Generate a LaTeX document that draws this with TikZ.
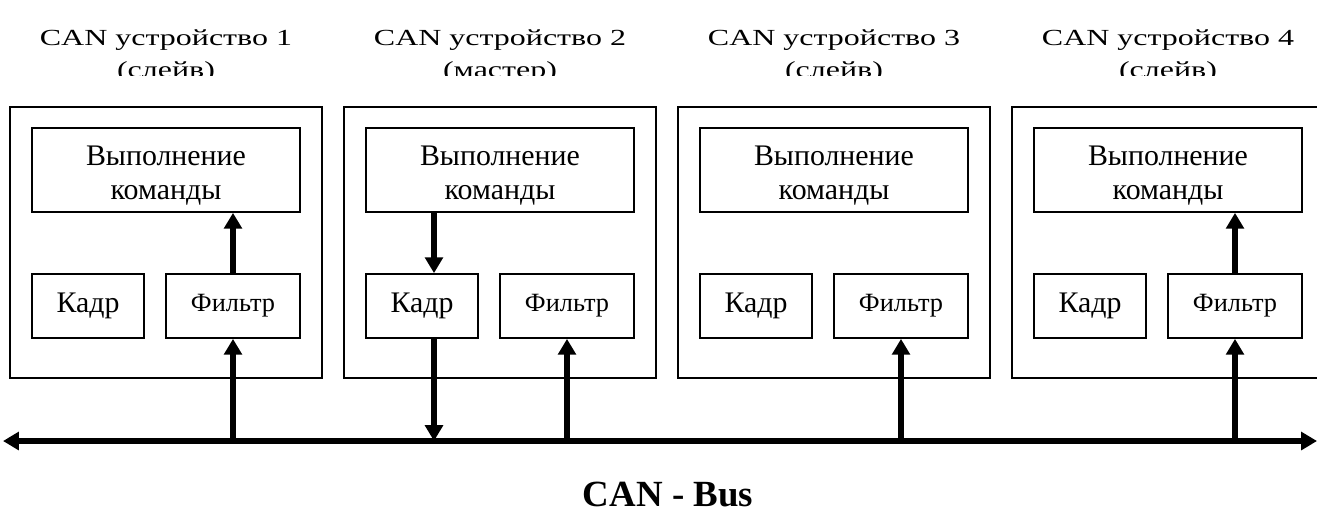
\documentclass[tikz,border=0pt]{standalone}
\usepackage{fontspec}
\setmainfont{Liberation Serif}
\usetikzlibrary{arrows.meta}

\tikzset{
  devbox/.style={draw,line width=1pt,minimum width=6.24cm,minimum height=5.42cm,inner sep=0},
  execbox/.style={draw,line width=1pt,minimum width=5.36cm,minimum height=1.68cm,inner sep=0},
  exectext/.style={anchor=base,inner sep=0,align=center,font=\fontsize{17}{19}\selectfont},
  kadrbox/.style={draw,line width=1pt,minimum width=2.24cm,minimum height=1.28cm,inner sep=0,
    font=\fontsize{17}{17}\selectfont},
  filtbox/.style={draw,line width=1pt,minimum width=2.68cm,minimum height=1.28cm,inner sep=0,
    font=\fontsize{15}{15}\selectfont},
  devtitle/.style={anchor=base,inner sep=0,font=\fontsize{18.2}{18}\selectfont},
  sig/.style={line width=3pt,-{Triangle[width=10pt,length=9pt]}},
  bus/.style={line width=2.9pt,{Triangle[width=10pt,length=9pt]}-{Triangle[width=10pt,length=9pt]}}
}

\begin{document}
\begin{tikzpicture}[x=0.02cm,y=-0.02cm]
    \useasboundingbox (0,0) rectangle (1317,512);
    % four devices, 334px apart
    \foreach \i/\role in {1/слейв,2/мастер,3/слейв,4/слейв} {
        \pgfmathsetmacro{\xo}{10+334*(\i-1)}
        \node[devbox] (dev\i) at (\xo+156,242.5) {};
        \node[execbox] (exec\i) at (\xo+156,170) {};
        \node[exectext] (cmdtext\i) at (\xo+156,199) {Выполнение\\команды};
        \node[kadrbox] (kadr\i) at (\xo+78,306) {Кадр};
        \node[filtbox] (filt\i) at (\xo+223,306) {Фильтр};
        \begin{scope}
            \clip (\xo-20,0) rectangle (\xo+340,75);
            \node[devtitle] (name\i) at (\xo+156,45) {\scalebox{1}[0.72]{CAN устройство \i}};
            \node[devtitle] (role\i) at (\xo+156,77) {\scalebox{1}[0.72]{(\role)}};
        \end{scope}
    }
    \coordinate (busL) at (3,441);
    \coordinate (busR) at (1317,441);
    \draw[bus] (busL) -- (busR);
    % slave 1
    \draw[sig] (filt1.north) -- (exec1.south -| filt1.north);
    \draw[sig] (filt1.south |- busL) -- (filt1.south);
    % master
    \coordinate (cmd2) at ([xshift=0.24cm]kadr2.north);
    \coordinate (tx2) at ([xshift=0.24cm]kadr2.south);
    \draw[sig] (exec2.south -| cmd2) -- (cmd2);
    \draw[sig] (tx2) -- (tx2 |- busL);
    \draw[sig] (filt2.south |- busL) -- (filt2.south);
    % slaves 3 and 4
    \draw[sig] (filt3.south |- busL) -- (filt3.south);
    \draw[sig] (filt4.south |- busL) -- (filt4.south);
    \draw[sig] (filt4.north) -- (exec4.south -| filt4.north);
    \node[anchor=base,inner sep=0,font=\bfseries\fontsize{21}{21}\selectfont] (busname) at (668,506) {CAN - Bus};
\end{tikzpicture}
\end{document}
